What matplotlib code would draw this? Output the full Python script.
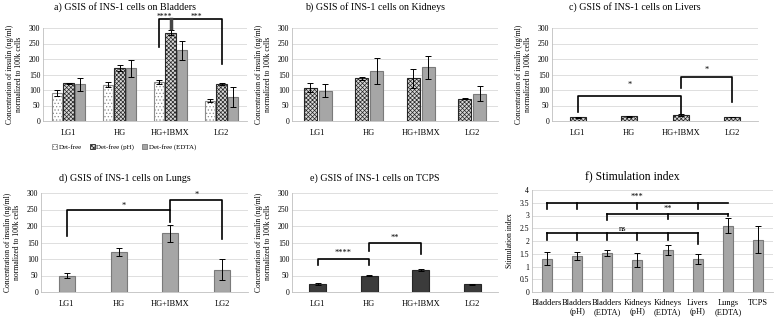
import numpy as np
import matplotlib
matplotlib.use("Agg")
import matplotlib.pyplot as plt
from matplotlib.patches import Patch
from matplotlib.ticker import FuncFormatter

plt.rcParams['font.family'] = ['Liberation Serif', 'DejaVu Serif']
plt.rcParams['hatch.linewidth'] = 0.5

groups = ["LG1", "HG", "HG+IBMX", "LG2"]

blad_free = [90, 117, 126, 66]
blad_free_err = [10, 8, 7, 5]
blad_ph = [121, 170, 285, 118]
blad_ph_err = [3, 10, 8, 3]
blad_edta = [118, 170, 228, 77]
blad_edta_err = [20, 27, 30, 32]

kid_ph = [108, 138, 138, 72]
kid_ph_err = [13, 5, 30, 2]
kid_edta = [98, 162, 173, 88]
kid_edta_err = [20, 42, 38, 25]

liv_ph = [12, 15, 19, 13]
liv_ph_err = [1, 1, 2, 1]

lung_edta = [50, 122, 178, 67]
lung_edta_err = [7, 12, 25, 32]

tcps = [25, 50, 67, 23]
tcps_err = [3, 3, 3, 1]

si_labels = ["Bladders", "Bladders\n(pH)", "Bladders\n(EDTA)", "Kidneys\n(pH)",
             "Kidneys\n(EDTA)", "Livers\n(pH)", "Lungs\n(EDTA)", "TCPS"]
si = [1.3, 1.42, 1.53, 1.27, 1.65, 1.28, 2.6, 2.05]
si_err = [0.25, 0.15, 0.1, 0.27, 0.2, 0.2, 0.3, 0.52]

ylab = "Concentration of insulin (ng/ml)\nnormalized to 100k cells"

FREE = dict(color='white', edgecolor='#8c8c8c', hatch='.....')
PH = dict(color='#d9d9d9', edgecolor='#262626', hatch='xxxxxxxx')
EDTA = dict(color='#a6a6a6', edgecolor='#7a7a7a')
ERR = dict(capsize=2, error_kw=dict(ecolor='black', elinewidth=0.7, capthick=0.7))

W, H = 779, 318
fig = plt.figure(figsize=(W / 100, H / 100), dpi=100)


def px_axes(x0, x1, ytop, ybot):
    return fig.add_axes([x0 / W, 1 - ybot / H, (x1 - x0) / W, (ybot - ytop) / H])


def style(ax, ymax, step):
    ax.set_ylim(0, ymax)
    ax.set_yticks(np.arange(0, ymax + step / 2, step))
    ax.yaxis.set_major_formatter(FuncFormatter(lambda v, p: f"{v:g}"))
    ax.grid(axis='y', color='#d9d9d9', lw=0.6)
    ax.set_axisbelow(True)
    for s in ['top', 'right']:
        ax.spines[s].set_visible(False)
    for s in ['left', 'bottom']:
        ax.spines[s].set_color('#bfbfbf')
        ax.spines[s].set_linewidth(0.6)
    ax.tick_params(length=0, labelsize=5.5, pad=2)
    ax.tick_params(axis='x', labelsize=6, pad=6)


def title(ax, s, fs, pad):
    # chart titles sit left of the plot-area centre, as in the source charts
    w = ax.get_position().width * W
    ax.set_title(s, fontsize=fs, pad=pad, x=0.5 - 20 / w)


def bracket(ax, x1, x2, y, y1, y2, lw=1.2):
    ax.plot([x1, x1, x2, x2], [y1, y, y, y2], color='black', lw=lw, clip_on=False)


def star(ax, x, y, s, fs=6):
    ax.text(x, y, s, ha='center', va='center', fontsize=fs, clip_on=False)


x = np.arange(len(groups))

# a) Bladders
ax = px_axes(43, 247, 28, 121)
ax.bar(x - 0.23, blad_free, 0.2, yerr=blad_free_err, lw=0.8, **FREE, **ERR)
ax.bar(x, blad_ph, 0.2, yerr=blad_ph_err, lw=0.8, **PH, **ERR)
ax.bar(x + 0.23, blad_edta, 0.2, yerr=blad_edta_err, lw=0.8, **EDTA, **ERR)
style(ax, 300, 50)
ax.set_xticks(x, groups)
ax.set_xlim(-0.5, 3.5)
ax.set_ylabel(ylab, fontsize=5.5, labelpad=4)
title(ax, "a) GSIS of INS-1 cells on Bladders", 7.2, 13.5)
bracket(ax, 2 - 0.23, 3, 330, 238, 185)
ax.plot([2, 2], [330, 300], color='#444444', lw=2.5, clip_on=False)
star(ax, 1.88, 336, "****", fs=5.5)
star(ax, 2.5, 336, "***", fs=5.5)
handles = [Patch(facecolor='white', edgecolor='#8c8c8c', hatch='.....', lw=0.6),
           Patch(facecolor='#d9d9d9', edgecolor='#262626', hatch='xxxxxxxx', lw=0.6),
           Patch(facecolor='#a6a6a6', edgecolor='#7a7a7a', lw=0.6)]
fig.legend(handles, ["Det-free", "Det-free (pH)", "Det-free (EDTA)"],
           loc='center', bbox_to_anchor=(124 / W, 1 - 147 / H), ncol=3,
           frameon=False, fontsize=5, handlelength=0.7, handleheight=0.7,
           handletextpad=0.2, columnspacing=1.2)

# b) Kidneys
ax = px_axes(292, 498, 28, 121)
ax.bar(x - 0.146, kid_ph, 0.245, yerr=kid_ph_err, lw=0.8, **PH, **ERR)
ax.bar(x + 0.146, kid_edta, 0.245, yerr=kid_edta_err, lw=0.8, **EDTA, **ERR)
style(ax, 300, 50)
ax.set_xticks(x, groups)
ax.set_xlim(-0.5, 3.5)
ax.set_ylabel(ylab, fontsize=5.5, labelpad=4)
title(ax, "b) GSIS of INS-1 cells on Kidneys", 7.2, 13.5)

# c) Livers
ax = px_axes(552, 758, 28, 121)
ax.bar(x, liv_ph, 0.31, yerr=liv_ph_err, lw=0.8, **PH, **ERR)
style(ax, 300, 50)
ax.set_xticks(x, groups)
ax.set_xlim(-0.5, 3.5)
ax.set_ylabel(ylab, fontsize=5.5, labelpad=4)
title(ax, "c) GSIS of INS-1 cells on Livers", 7.2, 13.5)
bracket(ax, 0, 2, 80, 30, 22)
bracket(ax, 2, 3, 143, 105, 60)
star(ax, 1, 117, "*")
star(ax, 2.5, 165, "*")

# d) Lungs
ax = px_axes(41, 248, 193, 292)
ax.bar(x, lung_edta, 0.31, yerr=lung_edta_err, lw=0.8, **EDTA, **ERR)
style(ax, 300, 50)
ax.set_xticks(x, groups)
ax.set_xlim(-0.5, 3.5)
ax.set_ylabel(ylab, fontsize=5.5, labelpad=4)
title(ax, "d) GSIS of INS-1 cells on Lungs", 7.2, 9)
bracket(ax, 0, 2, 250, 170, 212)
bracket(ax, 2, 3, 278, 250, 160)
star(ax, 1.1, 260, "*")
star(ax, 2.5, 295, "*")

# e) TCPS
ax = px_axes(292, 498, 193, 292)
ax.bar(x, tcps, 0.33, yerr=tcps_err, lw=0.8, color='#3b3b3b',
       edgecolor='#262626', **ERR)
style(ax, 300, 50)
ax.set_xticks(x, groups)
ax.set_xlim(-0.5, 3.5)
ax.set_ylabel(ylab, fontsize=5.5, labelpad=4)
title(ax, "e) GSIS of INS-1 cells on TCPS", 7.2, 9)
bracket(ax, 0, 1, 101, 81, 81)
bracket(ax, 1, 2, 147, 125, 114)
star(ax, 0.5, 119, "****")
star(ax, 1.5, 164, "**")

# f) Stimulation index
xs = np.arange(len(si_labels))
ax = px_axes(532, 773, 190, 292)
ax.bar(xs, si, 0.33, yerr=si_err, lw=0.8, color='#a6a6a6', edgecolor='#7a7a7a', **ERR)
style(ax, 4, 0.5)
ax.set_xticks(xs, si_labels)
ax.tick_params(axis='x', labelsize=6, pad=5)
ax.set_xlim(-0.5, 7.5)
ax.set_ylabel("Stimulation index", fontsize=5.5, labelpad=4)
title(ax, "f) Stimulation index", 8.5, 8)
lk = dict(color='black', lw=1.2, clip_on=False)
# ***
ax.plot([0, 6], [3.5, 3.5], **lk)
for i in [0, 1, 3, 5]:
    ax.plot([i, i], [3.5, 3.25], **lk)
star(ax, 3, 3.72, "***")
# **
ax.plot([2, 6], [3.07, 3.07], **lk)
for i, yb in [(2, 2.83), (4, 2.85), (6, 2.97)]:
    ax.plot([i, i], [3.07, yb], **lk)
star(ax, 4, 3.25, "**")
# ns
ax.plot([0, 5], [2.3, 2.3], **lk)
for i in range(5):
    ax.plot([i, i], [2.3, 2.04], **lk)
ax.plot([5, 5], [2.3, 1.87], **lk)
star(ax, 2.5, 2.48, "ns")

fig.savefig("out.png", dpi=100)
